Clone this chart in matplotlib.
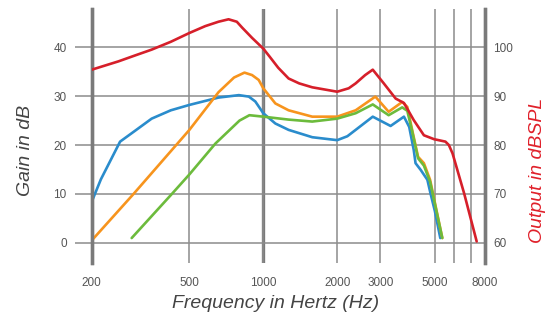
import numpy as np
import matplotlib
matplotlib.use("Agg")
from matplotlib import pyplot as plt
from matplotlib.ticker import FixedLocator, NullFormatter

plt.rcParams['font.family'] = ['Liberation Sans', 'DejaVu Sans']

# values
red_f = [200, 257, 300, 351, 420, 500, 580, 657, 722, 780, 820, 900, 1000, 1060, 1150, 1268, 1400,
         1583, 2000, 2228, 2378, 2600, 2792, 3096, 3460, 3740, 4100, 4510, 4960, 5520, 5700, 5900,
         6580, 7400]
red_spl = [95.4, 97.1, 98.3, 99.5, 101.1, 102.9, 104.3, 105.2, 105.7, 105.2, 104.0, 101.9, 99.7,
           98.1, 95.8, 93.6, 92.6, 91.8, 90.9, 91.6, 92.6, 94.3, 95.4, 92.6, 89.5, 88.6, 85.1,
           82.0, 81.2, 80.7, 80.0, 78.3, 70.1, 60.3]

blue_f = [200, 218, 261, 300, 351, 420, 500, 657, 795, 873, 928, 1000, 1120, 1268, 1583, 2000,
          2200, 2378, 2792, 3300, 3740, 3930, 4100, 4170, 4380, 4660, 4800, 5000, 5260]
blue_g = [8.4, 13.0, 20.7, 22.9, 25.4, 27.1, 28.2, 29.7, 30.2, 29.9, 28.9, 26.5, 24.4, 23.1, 21.6,
          21.0, 21.8, 23.1, 25.8, 23.9, 25.8, 23.7, 19.0, 16.3, 14.9, 12.9, 10.1, 6.5, 1.0]

orange_f = [200, 296, 500, 657, 760, 838, 900, 958, 1000, 1120, 1268, 1583, 2000, 2378, 2860,
            3240, 3680, 3860, 4040, 4270, 4510, 4780, 5360]
orange_g = [0.5, 10.0, 23.1, 30.8, 33.8, 34.8, 34.3, 33.3, 31.6, 28.5, 27.1, 25.8, 25.8, 27.1,
            29.9, 26.8, 28.8, 27.8, 23.1, 17.6, 16.3, 12.9, 1.0]

green_f = [291, 424, 500, 638, 800, 878, 1000, 1268, 1583, 2000, 2378, 2792,
           3240, 3680, 3860, 4040, 4270, 4510, 4780, 5360]
green_g = [1.0, 10.0, 14.0, 20.3, 25.0, 26.1, 25.8, 25.2, 24.8, 25.4, 26.5, 28.3,
           26.1, 27.7, 27.0, 22.8, 17.3, 15.8, 12.5, 1.0]

x_ticks = [200, 500, 1000, 2000, 3000, 5000, 8000]
x_minor = [6000, 7000]
gain_ticks = [0, 10, 20, 30, 40]
spl_ticks = [60, 70, 80, 90, 100]

fig = plt.figure(figsize=(5.51, 3.15), dpi=100)
ax = fig.add_axes([91.7 / 551, 1 - 263 / 315, (485 - 91.7) / 551, (263 - 9) / 315])
ax2 = ax.twinx()

grid_c = "#8c8c8c"
ax.set_xscale("log")
ax.set_xlim(200, 8000)
ax.set_ylim(-4.1, 47.8)
ax2.set_ylim(-4.1 + 60, 47.8 + 60)

ax.xaxis.set_major_locator(FixedLocator(x_ticks))
ax.xaxis.set_minor_locator(FixedLocator(x_minor))
ax.xaxis.set_minor_formatter(NullFormatter())
ax.set_xticklabels([str(t) for t in x_ticks])
ax.set_yticks(gain_ticks)
ax2.set_yticks(spl_ticks)

ax.grid(True, which="both", axis="x", color=grid_c, lw=1.1)
ax.grid(True, which="major", axis="y", color=grid_c, lw=1.1)
ax.axvline(1000, color="#7a7a7a", lw=2.4, zorder=1)

for a in (ax, ax2):
    for s in ("top", "bottom"):
        a.spines[s].set_visible(False)
    for s in ("left", "right"):
        a.spines[s].set_color("#7a7a7a")
        a.spines[s].set_linewidth(2.4)

ax.tick_params(axis="x", which="both", length=0, pad=10, labelsize=8.5, labelcolor="#555555")
ax.tick_params(axis="y", length=12, width=1.1, color=grid_c, pad=6, labelsize=8.5, labelcolor="#555555")
ax2.tick_params(axis="y", length=0, pad=6, labelsize=8.5, labelcolor="#555555")

lw = 1.9
kw = dict(lw=lw, solid_joinstyle="round", solid_capstyle="round")
ax.plot(blue_f, blue_g, color="#2a8ccc", zorder=3, **kw)
ax.plot(orange_f, orange_g, color="#f7941d", zorder=3, **kw)
ax.plot(green_f, green_g, color="#6cbb3c", zorder=4, **kw)
ax2.plot(red_f, red_spl, color="#d61f2a", zorder=5, **kw)

fig.text(26 / 551, 1 - 150 / 315, "Gain in dB", rotation=90, ha="center", va="center",
         fontsize=14, style="italic", color="#444444")
fig.text(537 / 551, 1 - 170 / 315, "Output in dBSPL", rotation=90, ha="center", va="center",
         fontsize=14, style="italic", color="#e0202a")
fig.text(276 / 551, 1 - 304 / 315, "Frequency in Hertz (Hz)", ha="center", va="center",
         fontsize=14, style="italic", color="#444444")

fig.savefig("out.png", dpi=100)
